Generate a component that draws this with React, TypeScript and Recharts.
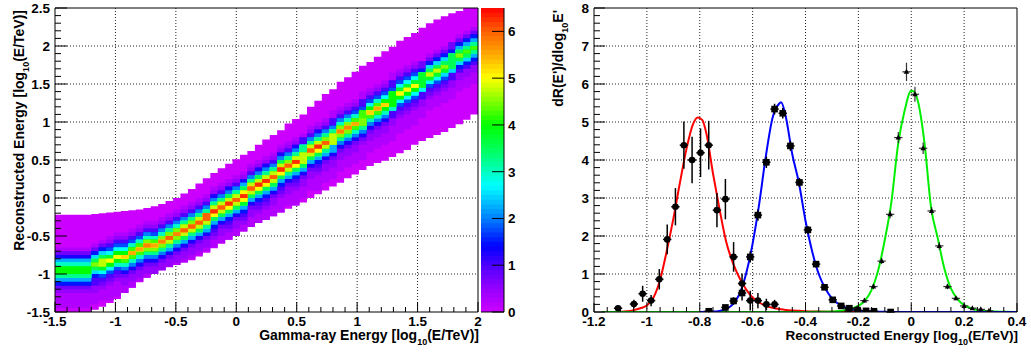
import * as React from "react";
import {
  ComposedChart,
  Area,
  Line,
  Scatter,
  ErrorBar,
  XAxis,
  YAxis,
  CartesianGrid,
  ReferenceLine,
} from "recharts";

const FONT = "'Liberation Sans', Arial, Helvetica, sans-serif";

// ---------- migration matrix (true vs reconstructed energy) ----------
// true-energy bin edges; the first bin is the wide block below -1.2
const trueEnergyEdges = [
  -1.5, -1.2, -1.138, -1.077, -1.015, -0.954, -0.892, -0.831, -0.769, -0.708,
  -0.646, -0.585, -0.523, -0.462, -0.4, -0.338, -0.277, -0.215, -0.154, -0.092,
  -0.031, 0.031, 0.092, 0.154, 0.215, 0.277, 0.338, 0.4, 0.462, 0.523,
  0.585, 0.646, 0.708, 0.769, 0.831, 0.892, 0.954, 1.015, 1.077, 1.138,
  1.2, 1.262, 1.323, 1.385, 1.446, 1.508, 1.569, 1.631, 1.692, 1.754,
  1.815, 1.877, 1.938, 2.0,
];
// filled range of reconstructed energy in every true-energy bin
const bandTop = [
  -0.22, -0.21, -0.2, -0.19, -0.18, -0.17, -0.16, -0.15, -0.13, -0.11,
  -0.08, -0.04, 0.0, 0.06, 0.12, 0.19, 0.26, 0.33, 0.39, 0.45,
  0.51, 0.57, 0.62, 0.7, 0.77, 0.83, 0.89, 0.98, 1.04, 1.1,
  1.2, 1.28, 1.37, 1.43, 1.53, 1.59, 1.66, 1.74, 1.79, 1.86,
  1.93, 1.99, 2.07, 2.12, 2.17, 2.24, 2.3, 2.35, 2.39, 2.43,
  2.46, 2.5, 2.5,
];
const bandBottom = [
  -1.5, -1.47, -1.43, -1.38, -1.33, -1.25, -1.18, -1.11, -1.05, -1.0,
  -0.95, -0.91, -0.88, -0.85, -0.82, -0.77, -0.72, -0.66, -0.6, -0.55,
  -0.5, -0.44, -0.38, -0.33, -0.29, -0.24, -0.19, -0.14, -0.1, -0.06,
  0.0, 0.05, 0.1, 0.15, 0.2, 0.26, 0.31, 0.37, 0.42, 0.46,
  0.49, 0.54, 0.59, 0.63, 0.7, 0.75, 0.79, 0.83, 0.87, 0.92,
  0.97, 1.03, 1.1,
];
// position and height of the ridge in each column
const ridgeCenter = [
  -0.95, -0.88, -0.85, -0.82, -0.79, -0.76, -0.72, -0.68, -0.64, -0.6,
  -0.56, -0.52, -0.47, -0.42, -0.37, -0.31, -0.25, -0.19, -0.13, -0.07,
  -0.01, 0.05, 0.11, 0.17, 0.24, 0.3, 0.36, 0.42, 0.49, 0.55,
  0.61, 0.68, 0.74, 0.8, 0.87, 0.93, 0.99, 1.05, 1.12, 1.18,
  1.24, 1.3, 1.37, 1.43, 1.49, 1.55, 1.61, 1.68, 1.74, 1.8,
  1.86, 1.92, 1.98,
];
const ridgePeak = [
  4.1, 4.6, 4.8, 5.0, 5.2, 5.4, 5.6, 5.5, 5.8, 5.7,
  5.9, 6.0, 5.8, 6.1, 6.0, 6.2, 6.0, 6.3, 6.1, 6.4,
  6.2, 6.5, 6.2, 6.4, 6.3, 6.1, 6.4, 6.0, 6.3, 6.1,
  6.2, 6.3, 6.0, 6.1, 5.8, 5.9, 5.6, 5.7, 5.4, 5.5,
  5.3, 5.2, 5.1, 5.0, 5.0, 4.9, 4.8, 4.8, 4.7, 4.6,
  4.5, 4.4, 4.3,
];
const ridgeSpread = [
  1.15, 1.1, 1.05, 1, 1, 1, 1, 1, 1, 1,
  1, 1, 1, 1, 1, 1, 1, 1, 1, 1,
  1, 1, 1, 1, 1, 1, 1, 1, 1, 1,
  1, 1, 1, 1, 1, 1, 1, 1, 1, 1,
  1, 1, 1, 1, 1, 1, 1, 1, 1, 1,
  1, 1, 1,
];
// relative response around the ridge bin (index 0), upwards and downwards
const profileAbove = [1, 0.78, 0.55, 0.35, 0.2, 0.1, 0.05, 0.03, 0.02];
const profileBelow = [1, 0.8, 0.58, 0.38, 0.24, 0.16, 0.12, 0.095, 0.075, 0.06, 0.05, 0.04, 0.03, 0.02];
const recoBinMin = -1.5;
const recoBinWidth = 0.05;
const recoBinCount = 80;

// colour palette of the z axis
const paletteValues = [0, 0.5, 1, 1.4, 2, 2.7, 3, 3.5, 4, 4.5, 5, 5.5, 6, 6.5];
const paletteColors = [
  "#cc00ff", "#9500ff", "#4d00ff", "#0000ff", "#0080ff", "#00ffff", "#00ffbf",
  "#00ff55", "#00ff00", "#80ff00", "#ffff00", "#ffaa00", "#ff6000", "#ff0000",
];
const contourStep = 0.25;
const contourCount = 26;
const colorBarStep = 0.1;
const colorBarMax = 6.5;

// axis ticks
const matrixXMajor = [-1.5, -1, -0.5, 0, 0.5, 1, 1.5, 2];
const matrixYMajor = [-1.5, -1, -0.5, 0, 0.5, 1, 1.5, 2, 2.5];
const colorBarMajor = [0, 1, 2, 3, 4, 5, 6];
const sliceXMajor = [-1.2, -1, -0.8, -0.6, -0.4, -0.2, 0, 0.2, 0.4];
const sliceYMajor = [0, 1, 2, 3, 4, 5, 6, 7, 8];

// ---------- dispersion slices at three true energies ----------
const recoBinHalfWidth = 0.0157;

const lowX = [-1.109, -1.049, -1.016, -0.984, -0.953, -0.923, -0.892, -0.86, -0.829, -0.797, -0.766, -0.735, -0.703, -0.672, -0.64, -0.609, -0.58, -0.548, -0.517];
const lowY = [0.1, 0.21, 0.48, 0.3, 0.86, 1.91, 2.77, 4.39, 4.0, 4.19, 4.39, 2.68, 2.97, 1.45, 0.75, 0.3, 0.3, 0.2, 0.2];
const lowErr = [0.07, 0.11, 0.21, 0.15, 0.27, 0.39, 0.49, 0.62, 0.61, 0.64, 0.64, 0.45, 0.53, 0.39, 0.26, 0.26, 0.2, 0.15, 0.12];

const midX = [-0.766, -0.703, -0.672, -0.64, -0.609, -0.58, -0.548, -0.517, -0.486, -0.457, -0.423, -0.391, -0.36, -0.328, -0.297, -0.265, -0.234, -0.203, -0.171, -0.141, -0.078];
const midY = [0.02, 0.12, 0.29, 0.5, 1.45, 2.55, 3.94, 5.34, 5.23, 4.37, 3.41, 2.16, 1.26, 0.65, 0.32, 0.16, 0.1, 0.05, 0.03, 0.02, 0.0];
const midErr = [0.03, 0.06, 0.1, 0.2, 0.15, 0.15, 0.15, 0.14, 0.14, 0.13, 0.12, 0.1, 0.08, 0.06, 0.05, 0.04, 0.03, 0.02, 0.02, 0.02, 0.01];

const highX = [-0.234, -0.205, -0.177, -0.143, -0.112, -0.08, -0.049, -0.018, 0.014, 0.045, 0.077, 0.106, 0.137, 0.169, 0.2, 0.231, 0.263, 0.294];
const highY = [0.05, 0.1, 0.3, 0.67, 1.34, 2.57, 4.59, 6.32, 5.73, 4.31, 2.66, 1.74, 0.67, 0.36, 0.16, 0.1, 0.07, 0.03];
const highErr = [0.02, 0.03, 0.05, 0.07, 0.08, 0.1, 0.15, 0.24, 0.2, 0.15, 0.1, 0.1, 0.07, 0.05, 0.04, 0.03, 0.02, 0.02];

// fitted response curves
const lowFitX = [-1.17, -1.125, -1.1, -1.075, -1.05, -1.025, -1.0, -0.975, -0.95, -0.925, -0.9, -0.875, -0.85, -0.825, -0.808, -0.79, -0.775, -0.75, -0.725, -0.7, -0.675, -0.65, -0.625, -0.6, -0.575, -0.55, -0.525, -0.5, -0.475, -0.45, -0.425, -0.4, -0.35, -0.3, -0.25, -0.2];
const lowFitY = [0, 0.002, 0.008, 0.02, 0.05, 0.1, 0.17, 0.38, 0.85, 1.6, 2.45, 3.4, 4.3, 4.95, 5.12, 5.05, 4.7, 3.65, 2.7, 1.85, 1.3, 0.9, 0.6, 0.38, 0.25, 0.16, 0.11, 0.08, 0.055, 0.04, 0.03, 0.02, 0.01, 0.005, 0.002, 0];

const midFitX = [-0.8, -0.75, -0.725, -0.7, -0.675, -0.65, -0.625, -0.6, -0.575, -0.55, -0.525, -0.5, -0.492, -0.475, -0.45, -0.425, -0.4, -0.375, -0.35, -0.325, -0.3, -0.275, -0.25, -0.225, -0.2, -0.15, -0.1, -0.05, 0, 0.1, 0.2, 0.3, 0.4];
const midFitY = [0, 0.01, 0.03, 0.08, 0.2, 0.47, 1.0, 1.8, 2.85, 4.1, 5.1, 5.48, 5.52, 5.15, 4.15, 3.4, 2.4, 1.6, 1.0, 0.62, 0.36, 0.21, 0.12, 0.07, 0.04, 0.015, 0.006, 0.002, 0, 0, 0, 0, 0];

const highFitX = [-1.17, -0.5, -0.4, -0.35, -0.3, -0.275, -0.25, -0.225, -0.2, -0.175, -0.15, -0.125, -0.1, -0.075, -0.05, -0.025, 0, 0.01, 0.025, 0.05, 0.075, 0.1, 0.125, 0.15, 0.175, 0.2, 0.225, 0.25, 0.3, 0.35, 0.4];
const highFitY = [0, 0, 0.002, 0.005, 0.015, 0.025, 0.045, 0.085, 0.16, 0.3, 0.58, 1.1, 1.9, 2.9, 4.4, 5.3, 5.82, 5.8, 5.55, 4.45, 2.75, 1.95, 1.15, 0.62, 0.34, 0.18, 0.1, 0.055, 0.02, 0.007, 0];

// ---------- helpers ----------
function hexToRgb(h: string) {
  const n = parseInt(h.slice(1), 16);
  return [(n >> 16) & 255, (n >> 8) & 255, n & 255];
}

function paletteColor(v: number) {
  const last = paletteValues.length - 1;
  const t = Math.max(paletteValues[0], Math.min(v, paletteValues[last]));
  let i = 0;
  while (i < last - 1 && t > paletteValues[i + 1]) i++;
  const f = (t - paletteValues[i]) / (paletteValues[i + 1] - paletteValues[i]);
  const a = hexToRgb(paletteColors[i]);
  const b = hexToRgb(paletteColors[i + 1]);
  return `rgb(${a.map((c, k) => Math.round(c + (b[k] - c) * f)).join(",")})`;
}

function cellValue(col: number, y: number) {
  const off = Math.round((y - ridgeCenter[col]) / (recoBinWidth * ridgeSpread[col]));
  const rel = off >= 0
    ? profileAbove[Math.min(off, profileAbove.length - 1)]
    : profileBelow[Math.min(-off, profileBelow.length - 1)];
  return ridgePeak[col] * rel;
}

// y-range of the cells in a column that reach a given contour level
function levelRange(col: number, level: number): [number, number] | null {
  const top = bandTop[col];
  const bottom = bandBottom[col];
  if (level <= 0) return [bottom, top];
  let lo: number | null = null;
  let hi: number | null = null;
  for (let j = 0; j < recoBinCount; j++) {
    const y0 = recoBinMin + j * recoBinWidth;
    const yc = y0 + recoBinWidth / 2;
    if (yc < bottom || yc > top) continue;
    if (cellValue(col, yc) >= level) {
      if (lo === null) lo = y0;
      hi = y0 + recoBinWidth;
    }
  }
  if (lo === null || hi === null) return null;
  return [Math.max(lo, bottom), Math.min(hi, top)];
}

const contourLevels = Array.from({ length: contourCount }, (_, k) => k * contourStep);
const colorBarLevels = Array.from({ length: Math.round(colorBarMax / colorBarStep) }, (_, k) => k * colorBarStep);

// two rows per column (left and right edge) so every column is a flat step
const matrixRows = bandTop.flatMap((_, col) => {
  const bands = contourLevels.map((L) => levelRange(col, L));
  return [
    { x: trueEnergyEdges[col], bands },
    { x: trueEnergyEdges[col + 1], bands },
  ];
});

// the colour scale is one column spanning the whole z range
const colorBarRows = [{ x: 0 }, { x: 1 }];

const toPoints = (xs: number[], ys: number[], errs: number[]) =>
  xs.map((x, i) => ({ x, y: ys[i], ey: errs[i], ex: recoBinHalfWidth }));
const toCurve = (xs: number[], ys: number[]) => xs.map((x, i) => ({ x, y: ys[i] }));

const lowPoints = toPoints(lowX, lowY, lowErr);
const midPoints = toPoints(midX, midY, midErr);
const highPoints = toPoints(highX, highY, highErr);

function withMinor(majors: number[], n: number) {
  const out: number[] = [];
  for (let i = 0; i < majors.length - 1; i++) {
    for (let k = 0; k < n; k++) out.push(majors[i] + ((majors[i + 1] - majors[i]) * k) / n);
  }
  out.push(majors[majors.length - 1]);
  return out;
}

const fmt = (v: number) => String(Math.round(v * 100) / 100);
const isMajor = (v: number, majors: number[]) => majors.some((m) => Math.abs(m - v) < 1e-6);

const textStyle = { fontFamily: FONT, fontWeight: "bold" as const, fill: "#000" };

// ROOT-like ticks: drawn inward, labels only on major ticks
const bottomTick = (majors: number[], long: number, short: number) => (p: any) => {
  const v = p.payload.value;
  const major = isMajor(v, majors);
  return (
    <g>
      <line x1={p.x} y1={p.y} x2={p.x} y2={p.y - (major ? long : short)} stroke="#000" />
      {major && (
        <text x={p.x} y={p.y + 13.5} textAnchor="middle" fontSize={13.5} {...textStyle}>
          {fmt(v)}
        </text>
      )}
    </g>
  );
};

const leftTick = (majors: number[], long: number, short: number, gap: number) => (p: any) => {
  const v = p.payload.value;
  const major = isMajor(v, majors);
  return (
    <g>
      <line x1={p.x} y1={p.y} x2={p.x + (major ? long : short)} y2={p.y} stroke="#000" />
      {major && (
        <text x={p.x - gap} y={p.y + 4.5} textAnchor="end" fontSize={13.5} {...textStyle}>
          {fmt(v)}
        </text>
      )}
    </g>
  );
};

const rightTick = (p: any) => (
  <g>
    <line x1={p.x} y1={p.y} x2={p.x - 12} y2={p.y} stroke="#000" />
    <text x={p.x + 4} y={p.y + 5} textAnchor="start" fontSize={13.5} {...textStyle}>
      {fmt(p.payload.value)}
    </text>
  </g>
);

const xTitle = (pre: string, post: string, size: number) => (p: any) => {
  const vb = p.viewBox;
  return (
    <text x={vb.x + vb.width + 1} y={vb.y + 27.5} textAnchor="end" fontSize={size} {...textStyle}>
      {pre}
      <tspan fontSize={9} dy={5}>10</tspan>
      <tspan dy={-5}>{post}</tspan>
    </text>
  );
};

const yTitle = (pre: string, post: string) => (p: any) => {
  const vb = p.viewBox;
  return (
    <text
      transform={`translate(${vb.x + 14},${vb.y + 2}) rotate(-90)`}
      textAnchor="end"
      fontSize={14}
      {...textStyle}
    >
      {pre}
      <tspan fontSize={9} dy={5}>10</tspan>
      <tspan dy={-5}>{post}</tspan>
    </text>
  );
};

const dotShape = (p: any) => <circle cx={p.cx} cy={p.cy} r={3.3} fill="#000" />;
const squareShape = (p: any) => <rect x={p.cx - 3.3} y={p.cy - 3.3} width={6.6} height={6.6} fill="#000" />;
const triangleShape = (p: any) => (
  <polygon points={`${p.cx},${p.cy - 3} ${p.cx - 2.7},${p.cy + 2} ${p.cx + 2.7},${p.cy + 2}`} fill="#000" />
);

const gridProps = { stroke: "#222", strokeDasharray: "1 2" };

export default function App() {
  return (
    <div style={{ position: "absolute", left: 0, top: 0, width: 1031, height: 352, background: "#fff" }}>
      {/* migration matrix */}
      <div style={{ position: "absolute", left: 0, top: 0 }}>
        <ComposedChart width={500} height={352} data={matrixRows} margin={{ top: 8, right: 22, bottom: 10, left: 10 }}>
          <CartesianGrid
            {...gridProps}
            verticalValues={[-1, -0.5, 0, 0.5, 1, 1.5]}
            horizontalValues={[-1, -0.5, 0, 0.5, 1, 1.5, 2]}
          />
          <XAxis
            dataKey="x"
            type="number"
            domain={[-1.5, 2]}
            allowDataOverflow
            ticks={withMinor(matrixXMajor, 5)}
            interval={0}
            tickSize={0}
            tickMargin={0}
            tickLine={false}
            height={30}
            axisLine={{ stroke: "#000" }}
            tick={bottomTick(matrixXMajor, 10, 5)}
            label={xTitle("Gamma-ray Energy [log", "(E/TeV)]", 14)}
          />
          <YAxis
            type="number"
            domain={[-1.5, 2.5]}
            allowDataOverflow
            ticks={withMinor(matrixYMajor, 5)}
            interval={0}
            tickSize={0}
            tickMargin={0}
            tickLine={false}
            width={45}
            axisLine={{ stroke: "#000" }}
            tick={leftTick(matrixYMajor, 12, 6, 5)}
            label={yTitle("Reconstructed Energy [log", "(E/TeV)]")}
          />
          {contourLevels.map((L, k) => (
            <Area
              key={k}
              type="linear"
              dataKey={(r: any) => r.bands[k]}
              fill={paletteColor(L)}
              fillOpacity={1}
              stroke="none"
              connectNulls={false}
              dot={false}
              activeDot={false}
              isAnimationActive={false}
            />
          ))}
          <ReferenceLine y={2.5} stroke="#000" />
          <ReferenceLine x={2} stroke="#000" />
        </ComposedChart>
      </div>

      {/* colour scale */}
      <div style={{ position: "absolute", left: 470, top: 0 }}>
        <ComposedChart width={70} height={352} data={colorBarRows} margin={{ top: 8, right: 6, bottom: 40, left: 11 }}>
          <XAxis dataKey="x" type="number" domain={[0, 1]} hide />
          <YAxis
            orientation="right"
            type="number"
            domain={[0, colorBarMax]}
            allowDataOverflow
            ticks={colorBarMajor}
            interval={0}
            tickSize={0}
            tickMargin={0}
            tickLine={false}
            width={30}
            axisLine={{ stroke: "#000" }}
            tick={rightTick}
          />
          {colorBarLevels.map((v, k) => (
            <Area
              key={k}
              type="linear"
              dataKey={() => [v, Math.min(v + colorBarStep * 1.3, colorBarMax)]}
              fill={paletteColor(v + colorBarStep / 2)}
              fillOpacity={1}
              stroke="none"
              dot={false}
              activeDot={false}
              isAnimationActive={false}
            />
          ))}
          <ReferenceLine y={0} stroke="#000" />
        </ComposedChart>
      </div>

      {/* dispersion slices */}
      <div style={{ position: "absolute", left: 540, top: 0 }}>
        <ComposedChart width={491} height={352} margin={{ top: 8, right: 14, bottom: 10, left: 9 }}>
          <CartesianGrid
            {...gridProps}
            verticalValues={[-1, -0.8, -0.6, -0.4, -0.2, 0, 0.2]}
            horizontalValues={[1, 2, 3, 4, 5, 6, 7]}
          />
          <XAxis
            dataKey="x"
            type="number"
            domain={[-1.2, 0.4]}
            allowDataOverflow
            ticks={withMinor(sliceXMajor, 4)}
            interval={0}
            tickSize={0}
            tickMargin={0}
            tickLine={false}
            height={30}
            axisLine={{ stroke: "#000" }}
            tick={bottomTick(sliceXMajor, 9, 5)}
            label={xTitle("Reconstructed Energy [log", "(E/TeV)]", 13.5)}
          />
          <YAxis
            dataKey="y"
            type="number"
            domain={[0, 8]}
            allowDataOverflow
            ticks={withMinor(sliceYMajor, 5)}
            interval={0}
            tickSize={0}
            tickMargin={0}
            tickLine={false}
            width={45}
            axisLine={{ stroke: "#000" }}
            tick={leftTick(sliceYMajor, 11, 6, 5)}
            label={yTitle("dR(E')/dlog", "E'")}
          />
          <Line data={toCurve(lowFitX, lowFitY)} dataKey="y" type="monotone" stroke="#ff0000" strokeWidth={2} dot={false} activeDot={false} isAnimationActive={false} />
          <Line data={toCurve(highFitX, highFitY)} dataKey="y" type="monotone" stroke="#00ee00" strokeWidth={2} dot={false} activeDot={false} isAnimationActive={false} />
          <Line data={toCurve(midFitX, midFitY)} dataKey="y" type="monotone" stroke="#0000ff" strokeWidth={2} dot={false} activeDot={false} isAnimationActive={false} />
          <Scatter data={lowPoints} shape={dotShape} isAnimationActive={false}>
            <ErrorBar dataKey="ey" direction="y" width={0} stroke="#000" strokeWidth={1.5} isAnimationActive={false} />
            <ErrorBar dataKey="ex" direction="x" width={0} stroke="#000" strokeWidth={1.5} isAnimationActive={false} />
          </Scatter>
          <Scatter data={midPoints} shape={squareShape} isAnimationActive={false}>
            <ErrorBar dataKey="ey" direction="y" width={0} stroke="#000" strokeWidth={1.5} isAnimationActive={false} />
            <ErrorBar dataKey="ex" direction="x" width={0} stroke="#000" strokeWidth={1.5} isAnimationActive={false} />
          </Scatter>
          <Scatter data={highPoints} shape={triangleShape} isAnimationActive={false}>
            <ErrorBar dataKey="ey" direction="y" width={0} stroke="#333" strokeWidth={1.2} isAnimationActive={false} />
            <ErrorBar dataKey="ex" direction="x" width={0} stroke="#333" strokeWidth={1.2} isAnimationActive={false} />
          </Scatter>
          <ReferenceLine y={8} stroke="#000" />
          <ReferenceLine x={0.4} stroke="#000" />
        </ComposedChart>
      </div>
    </div>
  );
}
